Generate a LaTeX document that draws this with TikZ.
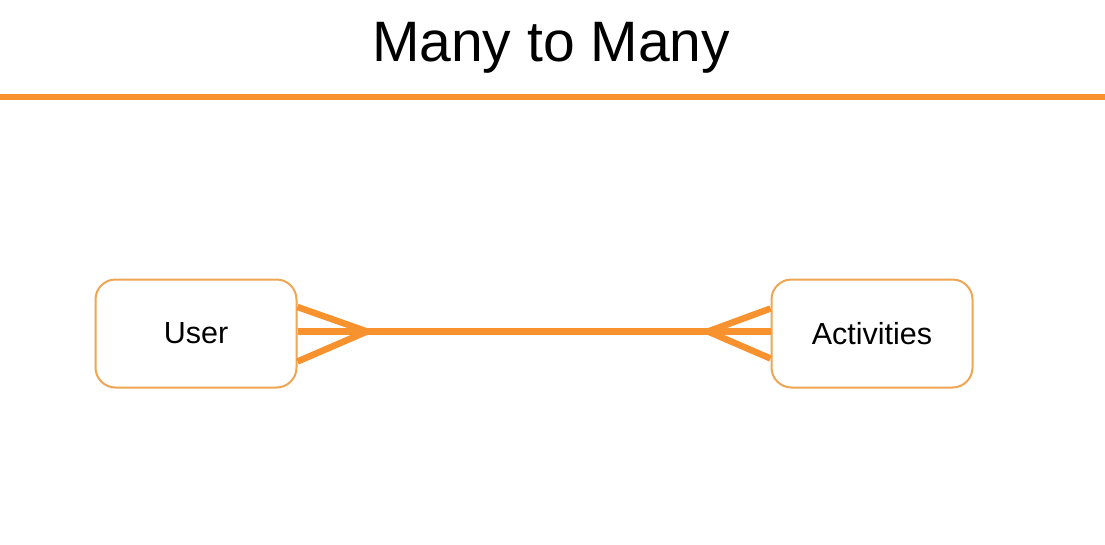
\documentclass[tikz,border=0pt]{standalone}
\usepackage{fontspec}
\setmainfont{Liberation Sans}
\usetikzlibrary{calc}
\definecolor{connorange}{HTML}{F7922F}
\definecolor{boxorange}{HTML}{F0A552}
\tikzset{
  entity/.style={draw=boxorange, line width=2pt, rounded corners=20pt, fill=white,
    minimum width=201pt, minimum height=108pt, inner sep=0pt, font=\fontsize{30.5}{36}\selectfont},
  conn/.style={draw=connorange, line width=6.5pt},
  titlerule/.style={draw=connorange, line width=6pt}
}
\begin{document}
\begin{tikzpicture}[x=1pt,y=-1pt]
\useasboundingbox[fill=white] (0,0) rectangle (1105,544);
\node[font=\fontsize{57}{66}\selectfont] (title) at (551,48) {Many to Many};
\coordinate (rl) at (0,97);
\coordinate (rr) at (1105,97);
\draw[titlerule] (rl) -- (rr);
\node[entity] (user) at (196,333.5) {\raisebox{-2pt}{User}};
\node[entity] (act) at (872,333.5) {\raisebox{-2pt}{Activities}};
\coordinate (uf) at (367,331.5);
\coordinate (af) at (708,331.5);
\draw[conn] (user.east|-uf) -- (act.west|-af);
\draw[conn] ($(user.east|-uf)+(0,-24.5)$) -- (uf) -- ($(user.east|-uf)+(0,30)$);
\draw[conn] ($(act.west|-af)+(0,-23)$) -- (af) -- ($(act.west|-af)+(0,27)$);
\end{tikzpicture}
\end{document}
